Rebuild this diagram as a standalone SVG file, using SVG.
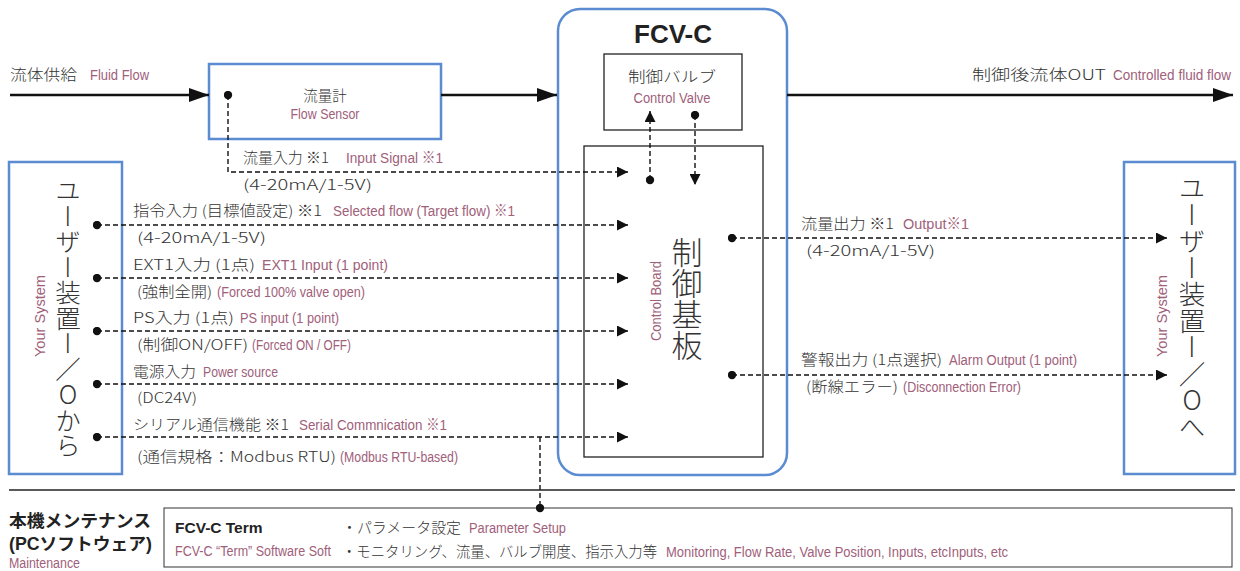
<svg xmlns="http://www.w3.org/2000/svg" width="1240" height="571" viewBox="0 0 1240 571">
<style>
.blue{fill:#fff;stroke:#5b8bd0;stroke-width:2.5}
.thin{fill:none;stroke:#222;stroke-width:1.3}
.main{fill:none;stroke:#111;stroke-width:2.6}
.dash{fill:none;stroke:#111;stroke-width:1.4;stroke-dasharray:5 3}
.jp{font-family:"Noto Sans CJK JP",sans-serif;font-weight:300;font-size:14.5px;fill:#333}
.en{font-family:"Liberation Sans Narrow","Liberation Sans","Noto Sans CJK JP",sans-serif;font-size:15.5px;fill:#a0607a}
.bold{font-family:"Liberation Sans","Noto Sans CJK JP",sans-serif;font-weight:bold;fill:#222}
.vert{font-family:"Noto Sans CJK JP",sans-serif;font-weight:300;fill:#333;writing-mode:vertical-rl;text-orientation:upright}
</style>
<defs>
<marker id="big" markerUnits="userSpaceOnUse" markerWidth="20" markerHeight="14" refX="20" refY="7" orient="auto"><path d="M0,0 L20,7 L0,14 z" fill="#111"/></marker>
<marker id="arr" markerUnits="userSpaceOnUse" markerWidth="11" markerHeight="11" refX="11" refY="5.5" orient="auto"><path d="M0,0 L11,5.5 L0,11 z" fill="#111"/></marker>
<marker id="dot" markerUnits="userSpaceOnUse" markerWidth="9" markerHeight="9" refX="4.5" refY="4.5"><circle cx="4.5" cy="4.5" r="4.2" fill="#111"/></marker>
</defs>
<rect width="1240" height="571" fill="#fff"/>

<g id="fcv-c">
<rect x="558" y="9" width="229" height="466" rx="22" class="blue"/>
<text x="673" y="43" class="bold" font-size="26" text-anchor="middle">FCV-C</text>
</g>
<g id="control-valve">
<rect x="604" y="54" width="138" height="76" class="thin"/>
<text x="672" y="82" class="jp" font-size="17" text-anchor="middle" textLength="88" lengthAdjust="spacingAndGlyphs">制御バルブ</text>
<text x="672" y="103" class="en" text-anchor="middle" textLength="77" lengthAdjust="spacingAndGlyphs">Control Valve</text>
</g>
<g id="control-board">
<rect x="584" y="146" width="179" height="311" class="thin"/>
<text x="687" y="237" class="vert" font-size="31">制御基板</text>
<text transform="translate(661,301) rotate(-90)" class="en" font-size="15" text-anchor="middle" textLength="80" lengthAdjust="spacingAndGlyphs">Control Board</text>
</g>
<g id="flow-sensor">
<rect x="209" y="64" width="232" height="75" class="blue"/>
<text x="325" y="101" class="jp" font-size="17.5" text-anchor="middle">流量計</text>
<text x="325" y="119" class="en" text-anchor="middle" textLength="69" lengthAdjust="spacingAndGlyphs">Flow Sensor</text>
</g>
<g id="user-in">
<rect x="9" y="162" width="113" height="312" class="blue"/>
<text x="68" y="178" class="vert" font-size="25.5">ユーザー装置ー／Oから</text>
<text transform="translate(45,316) rotate(-90)" class="en" font-size="16" text-anchor="middle" textLength="82" lengthAdjust="spacingAndGlyphs">Your System</text>
</g>
<g id="user-out">
<rect x="1124" y="162" width="111" height="312" class="blue"/>
<text x="1192" y="175" class="vert" font-size="26.5">ユーザー装置ー／Oへ</text>
<text transform="translate(1167,316) rotate(-90)" class="en" font-size="16" text-anchor="middle" textLength="82" lengthAdjust="spacingAndGlyphs">Your System</text>
</g>
<g id="maintenance">
<text x="9" y="527" class="bold" font-size="17.5" textLength="142" lengthAdjust="spacingAndGlyphs">本機メンテナンス</text>
<text x="9" y="550" class="bold" font-size="17.5" textLength="143" lengthAdjust="spacingAndGlyphs">(PCソフトウェア)</text>
<text x="9" y="568" class="en" textLength="71" lengthAdjust="spacingAndGlyphs">Maintenance</text>
<rect x="164" y="508" width="1068" height="59" fill="none" stroke="#333" stroke-width="1"/>
<text x="175" y="533" class="bold" font-size="15.5">FCV-C Term</text>
<text x="342" y="533" class="jp" font-size="14" textLength="119" lengthAdjust="spacingAndGlyphs">・パラメータ設定</text>
<text x="469" y="533" class="en" font-size="14.5" textLength="97" lengthAdjust="spacingAndGlyphs">Parameter Setup</text>
<text x="175" y="556" class="en" font-size="12.5" textLength="156" lengthAdjust="spacingAndGlyphs">FCV-C “Term” Software Soft</text>
<text x="342" y="557" class="jp" font-size="14" textLength="315" lengthAdjust="spacingAndGlyphs">・モニタリング、流量、バルブ開度、指示入力等</text>
<text x="666" y="557" class="en" font-size="14.5" textLength="342" lengthAdjust="spacingAndGlyphs">Monitoring, Flow Rate, Valve Position, Inputs, etcInputs, etc</text>
</g>

<g id="connectors">
<path d="M10,95 H209" class="main" marker-end="url(#big)"/>
<path d="M441,95 H557" class="main" marker-end="url(#big)"/>
<path d="M787,95 H1233" class="main" marker-end="url(#big)"/>
<path d="M228,95 V172 H628" class="dash" marker-start="url(#dot)" marker-end="url(#arr)"/>
<path d="M97,225 H628" class="dash" marker-start="url(#dot)" marker-end="url(#arr)"/>
<path d="M97,278 H628" class="dash" marker-start="url(#dot)" marker-end="url(#arr)"/>
<path d="M97,331 H628" class="dash" marker-start="url(#dot)" marker-end="url(#arr)"/>
<path d="M97,384 H628" class="dash" marker-start="url(#dot)" marker-end="url(#arr)"/>
<path d="M97,437 H628" class="dash" marker-start="url(#dot)" marker-end="url(#arr)"/>
<path d="M650,180 V111" class="dash" marker-start="url(#dot)" marker-end="url(#arr)"/>
<path d="M695,115 V185" class="dash" marker-start="url(#dot)" marker-end="url(#arr)"/>
<path d="M732,238 H1167" class="dash" marker-start="url(#dot)" marker-end="url(#arr)"/>
<path d="M732,375 H1167" class="dash" marker-start="url(#dot)" marker-end="url(#arr)"/>
<path d="M540,437 V508" class="dash" marker-end="url(#dot)"/>
<path d="M9,490 H1235" fill="none" stroke="#222" stroke-width="1.3"/>
</g>

<g id="labels">
<text x="10" y="80" class="jp" font-size="16.5" textLength="67" lengthAdjust="spacingAndGlyphs">流体供給</text>
<text x="90" y="80" class="en" textLength="59" lengthAdjust="spacingAndGlyphs">Fluid Flow</text>
<text x="972" y="80" class="jp" font-size="16.5" textLength="134" lengthAdjust="spacingAndGlyphs">制御後流体OUT</text>
<text x="1113" y="80" class="en" font-size="13" textLength="118" lengthAdjust="spacingAndGlyphs">Controlled fluid flow</text>

<text x="243" y="163" class="jp" textLength="86" lengthAdjust="spacingAndGlyphs">流量入力 ※1</text>
<text x="346" y="163" class="en" textLength="97" lengthAdjust="spacingAndGlyphs">Input Signal ※1</text>
<text x="243" y="190" class="jp" font-size="15.5" textLength="129" lengthAdjust="spacingAndGlyphs">(4-20mA/1-5V)</text>

<text x="133" y="216" class="jp" textLength="189" lengthAdjust="spacingAndGlyphs">指令入力 (目標値設定) ※1</text>
<text x="333" y="216" class="en" textLength="182" lengthAdjust="spacingAndGlyphs">Selected flow (Target flow) ※1</text>
<text x="137" y="243" class="jp" font-size="15.5" textLength="129" lengthAdjust="spacingAndGlyphs">(4-20mA/1-5V)</text>

<text x="133" y="270" class="jp" textLength="122" lengthAdjust="spacingAndGlyphs">EXT1入力 (1点)</text>
<text x="262" y="270" class="en" textLength="126" lengthAdjust="spacingAndGlyphs">EXT1 Input (1 point)</text>
<text x="137" y="297" class="jp" textLength="75" lengthAdjust="spacingAndGlyphs">(強制全開)</text>
<text x="217" y="297" class="en" textLength="148" lengthAdjust="spacingAndGlyphs">(Forced 100% valve open)</text>

<text x="133" y="323" class="jp" textLength="101" lengthAdjust="spacingAndGlyphs">PS入力 (1点)</text>
<text x="240" y="323" class="en" textLength="99" lengthAdjust="spacingAndGlyphs">PS input (1 point)</text>
<text x="137" y="350" class="jp" textLength="111" lengthAdjust="spacingAndGlyphs">(制御ON/OFF)</text>
<text x="252" y="350" class="en" textLength="99" lengthAdjust="spacingAndGlyphs">(Forced ON / OFF)</text>

<text x="133" y="377" class="jp" textLength="63" lengthAdjust="spacingAndGlyphs">電源入力</text>
<text x="203" y="377" class="en" textLength="75" lengthAdjust="spacingAndGlyphs">Power source</text>
<text x="137" y="403" class="jp" font-size="15.5" textLength="60" lengthAdjust="spacingAndGlyphs">(DC24V)</text>

<text x="133" y="430" class="jp" textLength="156" lengthAdjust="spacingAndGlyphs">シリアル通信機能 ※1</text>
<text x="299" y="430" class="en" textLength="148" lengthAdjust="spacingAndGlyphs">Serial Commnication ※1</text>
<text x="137" y="462" class="jp" font-size="15" textLength="199" lengthAdjust="spacingAndGlyphs">(通信規格：Modbus RTU)</text>
<text x="340" y="462" class="en" textLength="118" lengthAdjust="spacingAndGlyphs">(Modbus RTU-based)</text>

<text x="801" y="229" class="jp" textLength="93" lengthAdjust="spacingAndGlyphs">流量出力 ※1</text>
<text x="903" y="229" class="en" textLength="66" lengthAdjust="spacingAndGlyphs">Output※1</text>
<text x="806" y="256" class="jp" font-size="15.5" textLength="129" lengthAdjust="spacingAndGlyphs">(4-20mA/1-5V)</text>

<text x="801" y="365" class="jp" textLength="141" lengthAdjust="spacingAndGlyphs">警報出力 (1点選択)</text>
<text x="949" y="365" class="en" textLength="128" lengthAdjust="spacingAndGlyphs">Alarm Output (1 point)</text>
<text x="806" y="392" class="jp" textLength="92" lengthAdjust="spacingAndGlyphs">(断線エラー)</text>
<text x="903" y="392" class="en" textLength="118" lengthAdjust="spacingAndGlyphs">(Disconnection Error)</text>
</g>
</svg>
